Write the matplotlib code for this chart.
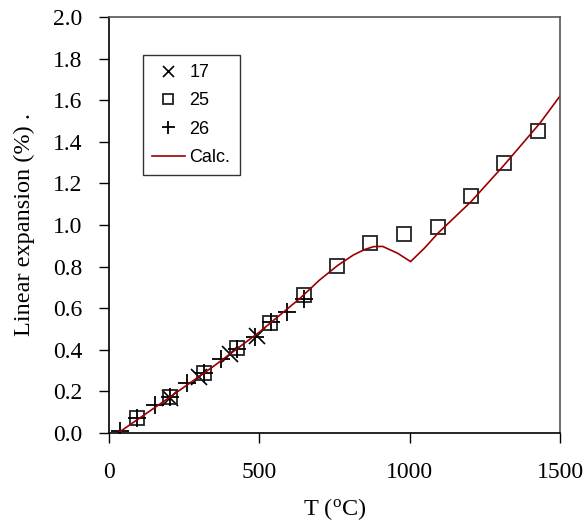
import numpy as np
import matplotlib
matplotlib.use("Agg")
import matplotlib.pyplot as plt

# sample 17 (x markers)
t17 = [203, 300, 402, 491]
e17 = [0.17, 0.27, 0.378, 0.468]

# sample 25 (open squares)
t25 = [93, 203, 316, 427, 537, 648, 757, 869, 981, 1094, 1204, 1314, 1427]
e25 = [0.072, 0.175, 0.29, 0.407, 0.53, 0.665, 0.803, 0.912, 0.955, 0.989, 1.14, 1.30, 1.452]

# sample 26 (plus markers)
t26 = [37, 93, 153, 203, 258, 316, 372, 427, 486, 538, 591, 648]
e26 = [0.01, 0.07, 0.135, 0.175, 0.24, 0.29, 0.354, 0.405, 0.463, 0.532, 0.583, 0.645]

# calculated curve
tc = [30, 200, 347, 500, 635, 700, 760, 813, 850, 880, 910, 960, 1003, 1050, 1095, 1204, 1314, 1433, 1500]
ec = [0.0, 0.17, 0.32, 0.485, 0.647, 0.735, 0.805, 0.856, 0.882, 0.896, 0.897, 0.864, 0.824, 0.89, 0.962,
      1.112, 1.288, 1.489, 1.62]

fig = plt.figure(figsize=(5.88, 5.22), dpi=100)
ax = fig.add_axes([0.1854, 0.1705, 0.767, 0.797])

ax.plot(t17, e17, linestyle="none", marker="x", ms=11, mew=1.2, color="black", label="17")
ax.plot(t25, e25, linestyle="none", marker="s", ms=10.5, mew=1.3, mfc="none", mec="#222222", label="25")
ax.plot(t26, e26, linestyle="none", marker="+", ms=13, mew=1.3, color="black", label="26")
ax.plot(tc, ec, color="#990000", lw=1.2, label="Calc.")

ax.set_xlim(0, 1500)
ax.set_ylim(0, 2.0)
ax.set_xticks([0, 500, 1000, 1500])
ax.set_yticks(np.arange(0, 2.01, 0.2))
ax.yaxis.set_major_formatter(matplotlib.ticker.FormatStrFormatter("%.1f"))

serif = ["Liberation Serif", "DejaVu Serif"]
for lab in ax.get_xticklabels() + ax.get_yticklabels():
    lab.set_fontfamily(serif)
    lab.set_fontsize(17)
ax.tick_params(axis="x", direction="out", length=7, width=1, pad=14)
ax.tick_params(axis="y", direction="out", length=7, width=1, pad=12)

for s in ["top", "right"]:
    ax.spines[s].set_color("#555555")
    ax.spines[s].set_linewidth(1.2)
for s in ["left", "bottom"]:
    ax.spines[s].set_color("black")
    ax.spines[s].set_linewidth(1.2)

ax.set_xlabel("T ($\\mathregular{^o}$C)", fontfamily=serif, fontsize=17.5, labelpad=9)
ax.set_ylabel("Linear expansion (%) .", fontfamily=serif, fontsize=17.5, labelpad=13)

leg = ax.legend(loc="upper left", bbox_to_anchor=(0.0754, 0.9087), frameon=True, fancybox=False,
                edgecolor="black", prop={"family": "Liberation Sans", "size": 13},
                markerscale=0.72, handlelength=1.8, handletextpad=0.28, labelspacing=0.63,
                borderpad=0.5, borderaxespad=0)
leg.get_frame().set_linewidth(1.0)

fig.savefig("out.png", dpi=100)
